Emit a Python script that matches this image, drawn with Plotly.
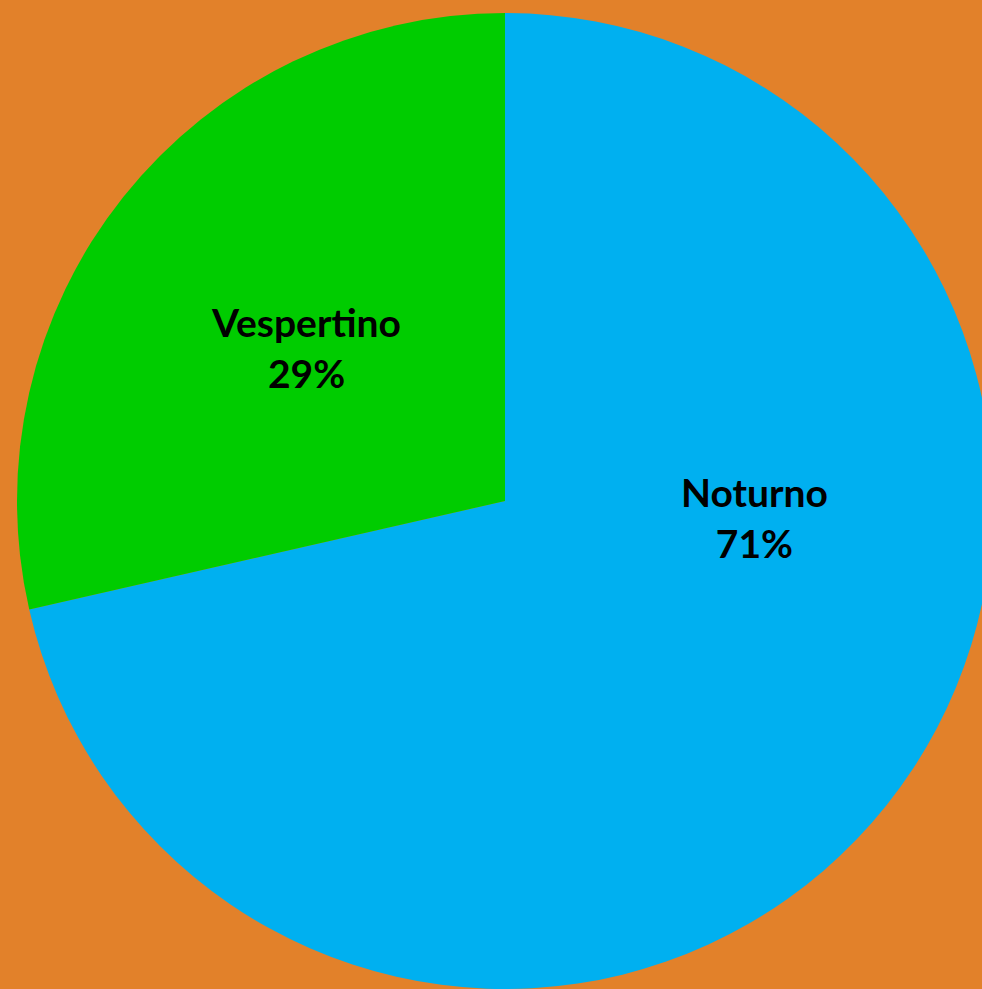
import plotly.graph_objects as go

labels = ["Noturno", "Vespertino"]
values = [5, 2]
colors = ["#00B0F0", "#00CC00"]

# label anchor positions (plot-area fractions), chosen to match the reference layout
label_pos = {"Vespertino": (0.296, 0.657), "Noturno": (0.756, 0.483)}

fig = go.Figure(go.Pie(
    labels=labels,
    values=values,
    sort=False,
    direction="clockwise",
    rotation=0,
    marker=dict(colors=colors, line=dict(width=0)),
    textinfo="none",
    hoverinfo="skip",
    showlegend=False,
))

total = sum(values)
for lab, v in zip(labels, values):
    x, y = label_pos[lab]
    fig.add_annotation(
        x=x, y=y, xref="paper", yref="paper",
        text=f"<b>{lab}</b><br><b>{round(100 * v / total)}%</b>",
        showarrow=False,
        font=dict(family="Lato", size=39, color="black"),
        align="center", xanchor="center", yanchor="middle",
    )

fig.update_layout(
    width=1010, height=989, autosize=False,
    margin=dict(l=17, r=17, t=13, b=0, pad=0),
    paper_bgcolor="#E2812A",
    plot_bgcolor="#E2812A",
    showlegend=False,
)

fig.write_html(
    "out.html",
    config={"displayModeBar": False},
    post_script="document.body.style.margin='0';document.body.style.overflow='hidden';document.documentElement.style.overflow='hidden';",
)
